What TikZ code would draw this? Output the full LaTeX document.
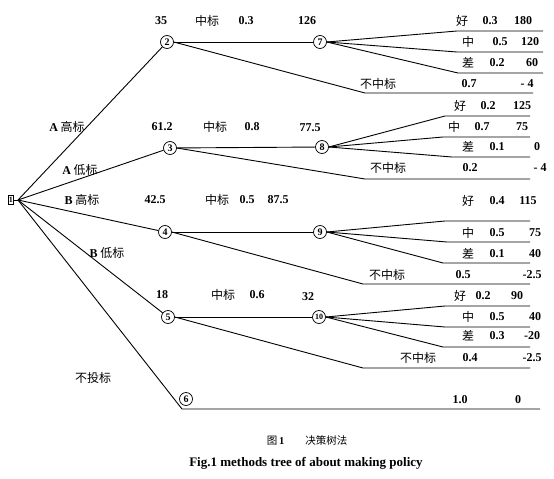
\documentclass[tikz,border=0pt]{standalone}
\usepackage{fontspec}
\setmainfont{Liberation Serif}
\newfontfamily\cjk{Noto Sans CJK SC}
\begin{document}
\begin{tikzpicture}[x=1pt,y=-1pt,
  num/.style={font=\fontsize{12}{12}\selectfont\bfseries, inner sep=0pt},
  zh/.style={font=\fontsize{12}{12}\selectfont\cjk, inner sep=0pt},
  cnode/.style={circle, draw, line width=0.7pt, minimum size=13pt, inner sep=0pt, font=\fontsize{10}{10}\selectfont\bfseries},
  br/.style={line width=0.9pt}]
\useasboundingbox (0,0) rectangle (554,479);
% root
\node[draw, line width=0.5pt, minimum width=5pt, minimum height=9pt, inner sep=0pt, font=\fontsize{8}{8}\selectfont\bfseries] (n1) at (11,200) {1};
\coordinate (r) at (18,200);
% chance nodes
\node[cnode] (c2) at (167,42) {2};
\node[cnode] (c3) at (170,148) {3};
\node[cnode] (c4) at (165,232) {4};
\node[cnode] (c5) at (168,317) {5};
\node[cnode] (c6) at (186,399) {6};
\node[cnode] (c7) at (320,42) {7};
\node[cnode] (c8) at (322,147) {8};
\node[cnode] (c9) at (320,232) {9};
\node[cnode, font=\fontsize{8}{8}\selectfont\bfseries] (c10) at (319,317) {10};
% root branches
\draw[br] (n1.east) -- (r);
\draw[br] (r) -- (c2);
\draw[br] (r) -- (c3);
\draw[br] (r) -- (c4);
\draw[br] (r) -- (c5);
\coordinate (k6) at (182,409);
\coordinate (e6) at (540,409);
\draw[br] (r) -- (k6) -- (e6);
% second level
\draw[br] (c2) -- (c7);
\draw[br] (c3) -- (c8);
\draw[br] (c4) -- (c9);
\draw[br] (c5) -- (c10);
% not-win branches
\draw[br] (c2.east) -- (365,93) -- (533,93);
\draw[br] (c3.east) -- (365,179) -- (530,179);
\draw[br] (c4.east) -- (363,284) -- (530,284);
\draw[br] (c5.east) -- (363,368) -- (530,368);
% outcome branches
\draw[br] (c7.east) -- (457,31) -- (543,31);
\draw[br] (c7.east) -- (457,52) -- (543,52);
\draw[br] (c7.east) -- (458,73) -- (543,73);
\draw[br] (c8.east) -- (445,116) -- (530,116);
\draw[br] (c8.east) -- (443,137) -- (530,137);
\draw[br] (c8.east) -- (452,157) -- (530,157);
\draw[br] (c9.east) -- (445,221) -- (530,221);
\draw[br] (c9.east) -- (447,242) -- (530,242);
\draw[br] (c9.east) -- (443,263) -- (530,263);
\draw[br] (c10.east) -- (445,306) -- (530,306);
\draw[br] (c10.east) -- (445,327) -- (530,327);
\draw[br] (c10.east) -- (443,347) -- (530,347);
% root labels
\node[zh] (la) at (67,127) {{\bfseries\rmfamily A} 高标};
\node[zh] (lb) at (80,170) {{\bfseries\rmfamily A} 低标};
\node[zh] (lc) at (82,200) {{\bfseries\rmfamily B} 高标};
\node[zh] (ld) at (107,253) {{\bfseries\rmfamily B} 低标};
\node[zh] (le) at (93,378) {不投标};
% level labels
\node[num] (v2) at (161,21) {35};
\node[zh] (w2) at (207,21) {中标};
\node[num] (p2) at (246,21) {0.3};
\node[num] (v7) at (307,21) {126};
\node[num] (v3) at (162,127) {61.2};
\node[zh] (w3) at (215,127) {中标};
\node[num] (p3) at (252,127) {0.8};
\node[num] (v8) at (310,128) {77.5};
\node[num] (v4) at (155,200) {42.5};
\node[zh] (w4) at (217,200) {中标};
\node[num] (p4) at (247,200) {0.5};
\node[num] (v9) at (278,200) {87.5};
\node[num] (v5) at (162,295) {18};
\node[zh] (w5) at (223,295) {中标};
\node[num] (p5) at (257,295) {0.6};
\node[num] (v10) at (308,297) {32};
% outcomes of 7
\node[zh] (a1) at (462,21) {好};
\node[num] (a2) at (490,21) {0.3};
\node[num] (a3) at (523,21) {180};
\node[zh] (a4) at (468,42) {中};
\node[num] (a5) at (500,42) {0.5};
\node[num] (a6) at (530,42) {120};
\node[zh] (a7) at (468,63) {差};
\node[num] (a8) at (497,63) {0.2};
\node[num] (a9) at (532,63) {60};
\node[zh] (a10) at (378,84) {不中标};
\node[num] (a11) at (469,84) {0.7};
\node[num] (a12) at (527,84) {- 4};
% outcomes of 8
\node[zh] (b1) at (460,106) {好};
\node[num] (b2) at (488,106) {0.2};
\node[num] (b3) at (522,106) {125};
\node[zh] (b4) at (454,127) {中};
\node[num] (b5) at (482,127) {0.7};
\node[num] (b6) at (522,127) {75};
\node[zh] (b7) at (468,147) {差};
\node[num] (b8) at (497,147) {0.1};
\node[num] (b9) at (537,147) {0};
\node[zh] (b10) at (388,168) {不中标};
\node[num] (b11) at (470,168) {0.2};
\node[num] (b12) at (540,168) {- 4};
% outcomes of 9
\node[zh] (d1) at (468,201) {好};
\node[num] (d2) at (497,201) {0.4};
\node[num] (d3) at (528,201) {115};
\node[zh] (d4) at (468,233) {中};
\node[num] (d5) at (497,233) {0.5};
\node[num] (d6) at (535,233) {75};
\node[zh] (d7) at (468,254) {差};
\node[num] (d8) at (497,254) {0.1};
\node[num] (d9) at (535,254) {40};
\node[zh] (d10) at (387,275) {不中标};
\node[num] (d11) at (463,275) {0.5};
\node[num] (d12) at (532,275) {-2.5};
% outcomes of 10
\node[zh] (f1) at (460,296) {好};
\node[num] (f2) at (483,296) {0.2};
\node[num] (f3) at (517,296) {90};
\node[zh] (f4) at (468,317) {中};
\node[num] (f5) at (497,317) {0.5};
\node[num] (f6) at (535,317) {40};
\node[zh] (f7) at (468,336) {差};
\node[num] (f8) at (497,336) {0.3};
\node[num] (f9) at (532,336) {-20};
\node[zh] (f10) at (418,358) {不中标};
\node[num] (f11) at (470,358) {0.4};
\node[num] (f12) at (532,358) {-2.5};
% outcome of 6
\node[num] (g1) at (460,400) {1.0};
\node[num] (g2) at (518,400) {0};
% caption
\node[font=\fontsize{10.5}{11}\selectfont, inner sep=0pt] (cap1) at (307,440) {{\cjk 图}\,{\bfseries 1}\qquad{\cjk 决策树法}};
\node[font=\fontsize{13}{13}\selectfont\bfseries, inner sep=0pt] (cap2) at (306,463) {Fig.1 methods tree of about making policy};
\end{tikzpicture}
\end{document}
